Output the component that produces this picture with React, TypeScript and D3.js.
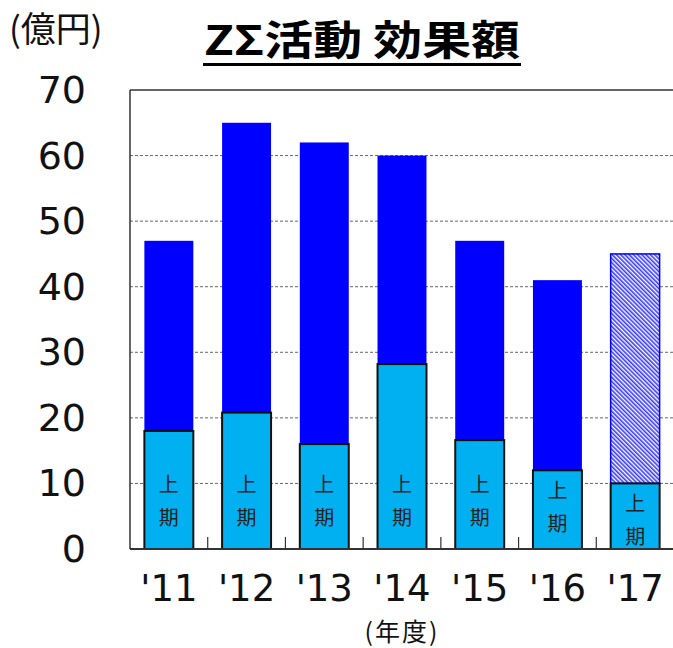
import React from "react";
import * as d3 from "d3";

const years = ["'11", "'12", "'13", "'14", "'15", "'16", "'17"];
const totalValues = [47, 65, 62, 60, 47, 41, 45];
const firstHalfValues = [18, 20.8, 16, 28.2, 16.6, 12, 10];
const forecastFlags = [false, false, false, false, false, false, true];
const yTicks = [0, 10, 20, 30, 40, 50, 60, 70];

const W = 673, H = 648;
const left = 130, right = 674, top = 90, bottom = 549;
const jpFont = "'Noto Sans CJK JP', 'Noto Sans', sans-serif";
const numFont = "'DejaVu Sans', Verdana, sans-serif";

export default function App() {
  const x = d3.scaleBand<string>().domain(years).range([left, right]).paddingInner(0.37).paddingOuter(0.185);
  const y = d3.scaleLinear().domain([0, 70]).range([bottom, top]);
  const step = x.step();
  return (
    <svg width={W} height={H} style={{ position: "absolute", left: 0, top: 0, background: "#fff" }}>
      <defs>
        <pattern id="hatch" patternUnits="userSpaceOnUse" width="3" height="3" patternTransform="rotate(-45)">
          <rect width="3" height="3" fill="#ffffff" />
          <rect width="1.6" height="3" fill="#3838ff" />
        </pattern>
      </defs>
      <text x={9} y={42} fontFamily={jpFont} fontSize={35} fill="#111">(億円)</text>
      <text x={204} y={55} textLength={316} lengthAdjust="spacingAndGlyphs" fontFamily={jpFont} fontSize={41} fontWeight="bold" fill="#000">ZΣ活動 効果額</text>
      <line x1={203} x2={521} y1={64.5} y2={64.5} stroke="#000" strokeWidth={3} />
      {yTicks.filter(t => t > 0 && t < 70).map(t => (
        <line key={"g" + t} x1={left} x2={right} y1={y(t)} y2={y(t)} stroke="#666" strokeWidth={1} strokeDasharray="3,2" />
      ))}
      {yTicks.map(t => (
        <text key={"t" + t} x={86} y={y(t) + 13} textAnchor="end" fontFamily={numFont} fontSize={38} fill="#111">{t}</text>
      ))}
      {years.map((yr, i) => {
        const bx = x(yr)!;
        const bw = x.bandwidth();
        const lowTop = y(firstHalfValues[i]);
        const labelY = Math.max(484, lowTop + 20);
        return (
          <g key={yr}>
            {forecastFlags[i] ? (
              <rect x={bx} y={y(totalValues[i])} width={bw} height={lowTop - y(totalValues[i])} fill="url(#hatch)" stroke="#0000ff" strokeWidth={1.5} />
            ) : (
              <rect x={bx} y={y(totalValues[i])} width={bw} height={lowTop - y(totalValues[i])} fill="#0000ff" />
            )}
            <rect x={bx} y={lowTop} width={bw} height={bottom - lowTop} fill="#00b0f0" stroke="#111" strokeWidth={2} />
            <text x={bx + bw / 2} y={labelY + 8} textAnchor="middle" fontFamily={jpFont} fontSize={20} fill="#222">上</text>
            <text x={bx + bw / 2} y={labelY + 41} textAnchor="middle" fontFamily={jpFont} fontSize={20} fill="#222">期</text>
            <text x={bx + bw / 2} y={601} textAnchor="middle" fontFamily={numFont} fontSize={37} fill="#111">{yr}</text>
          </g>
        );
      })}
      {years.slice(1).map((yr, i) => (
        <line key={"bt" + yr} x1={left + step * (i + 1)} x2={left + step * (i + 1)} y1={bottom} y2={bottom - 12} stroke="#333" strokeWidth={1.2} />
      ))}
      <line x1={left} x2={right} y1={top} y2={top} stroke="#333" strokeWidth={1.5} />
      <line x1={left} x2={left} y1={top} y2={bottom} stroke="#333" strokeWidth={1.5} />
      <line x1={left} x2={right} y1={bottom} y2={bottom} stroke="#333" strokeWidth={2} />
      <text x={402} y={641} textAnchor="middle" fontFamily={jpFont} fontSize={25} letterSpacing={2} fill="#111">(年度)</text>
    </svg>
  );
}
